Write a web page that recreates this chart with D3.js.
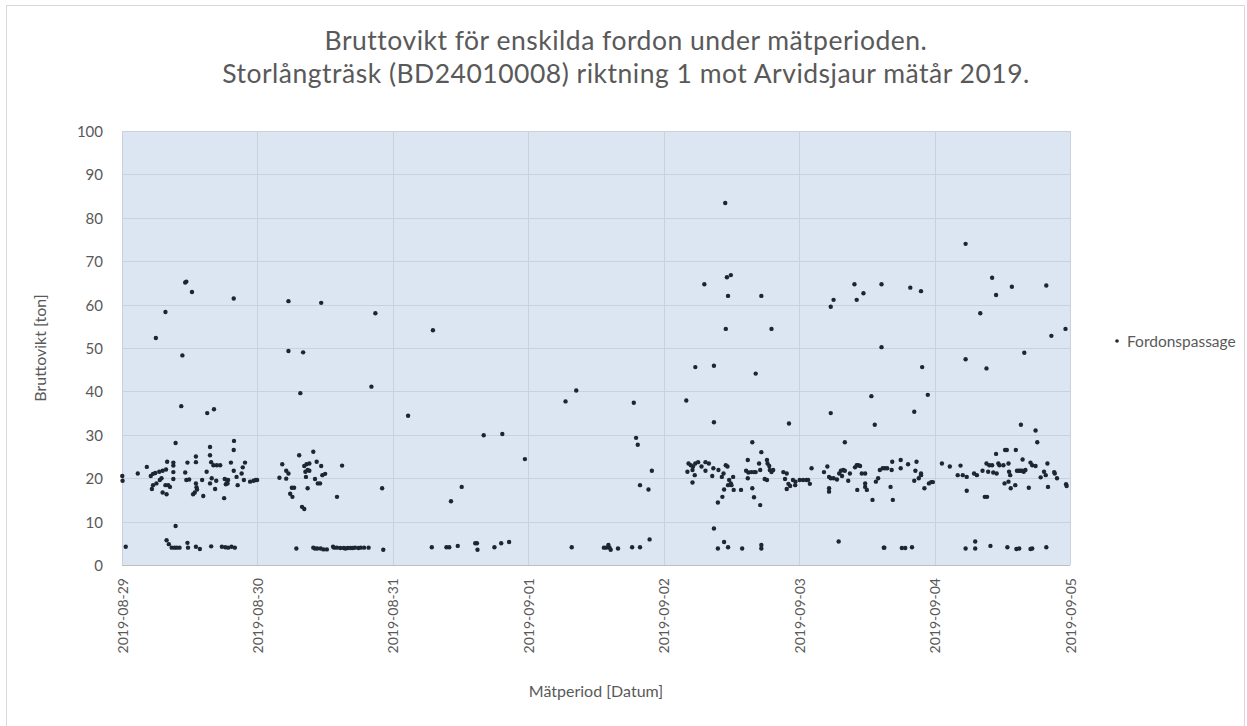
<!DOCTYPE html>
<html>
<head>
<meta charset="utf-8">
<script src="https://cdn.jsdelivr.net/npm/d3@7"></script>
<style>
  body { margin: 0; background: #fff; }
  svg { display: block; font-family: Lato, "Open Sans", sans-serif; }
</style>
</head>
<body>
<div id="chart"></div>
<script>
// ---- data: [hour of day, gross weight in ton] per measuring day ----
const day0829 = [
  [0.05, 20.5], [0.1, 19.4], [0.66, 4.2], [2.8, 21.1], [4.4, 22.6], [5.1, 20.5], [5.5, 21.0],
  [5.3, 17.5], [5.5, 18.4], [5.9, 21.2], [6.6, 21.5], [7.2, 21.7], [7.8, 22.0], [8.0, 23.8],
  [6.1, 18.8], [6.7, 19.6], [7.0, 20.0], [7.2, 16.7], [7.9, 16.3], [7.7, 18.4], [8.2, 18.4],
  [8.5, 18.0], [9.1, 23.6], [9.1, 22.9], [9.1, 21.4], [9.1, 19.8], [9.5, 28.1], [9.5, 9.0],
  [6.0, 52.3], [7.7, 58.3], [10.5, 36.6], [10.7, 48.3], [11.2, 65.1], [11.4, 65.3], [12.4, 62.9],
  [15.1, 35.0], [16.3, 35.9], [19.8, 61.4], [11.2, 21.3], [11.4, 19.6], [11.9, 19.7], [11.6, 23.6],
  [13.1, 25.0], [13.1, 23.7], [12.6, 16.3], [12.9, 16.7], [13.1, 18.8], [13.2, 17.9], [13.3, 17.4],
  [14.2, 19.6], [14.4, 15.9], [15.0, 21.5], [15.6, 25.3], [15.6, 27.2], [15.8, 23.7], [15.9, 20.0],
  [15.6, 18.8], [16.2, 23.0], [16.8, 23.0], [17.4, 23.0], [16.7, 19.4], [16.5, 17.5], [18.1, 15.4],
  [18.2, 19.8], [18.6, 19.6], [18.8, 19.6], [18.4, 18.6], [18.7, 18.8], [19.3, 23.6], [19.8, 21.7],
  [19.8, 26.5], [19.85, 28.6], [20.3, 20.3], [20.5, 18.4], [21.2, 21.1], [21.4, 22.5], [21.8, 23.6],
  [21.6, 19.6], [22.7, 19.2], [23.3, 19.4], [23.7, 19.6], [23.95, 19.6],
  [7.9, 5.7], [8.3, 4.8], [8.8, 4.0], [9.3, 4.0], [9.7, 4.0], [10.2, 4.0], [11.6, 5.1], [11.7, 4.0],
  [13.1, 4.2], [13.8, 3.7], [15.8, 4.3], [17.7, 4.2], [18.3, 4.1], [18.8, 4.0], [19.4, 4.2], [20.0, 4.0]
];
const day0830 = [
  [3.9, 20.1], [4.4, 23.2], [5.1, 21.7], [5.1, 19.9], [5.5, 21.1], [5.5, 60.8], [5.5, 49.3],
  [6.1, 17.8], [6.5, 17.8], [5.8, 16.4], [6.2, 15.7], [7.4, 25.3], [7.6, 39.6], [8.1, 49.0],
  [7.9, 13.4], [8.3, 12.9], [8.3, 22.8], [8.7, 23.2], [9.2, 23.4], [8.5, 21.5], [8.9, 21.9],
  [9.2, 21.7], [8.6, 20.3], [8.9, 17.7], [9.9, 26.1], [10.5, 23.8], [11.3, 22.8], [10.2, 19.8],
  [10.7, 18.8], [11.1, 18.8], [11.5, 20.7], [12.0, 21.0], [11.3, 60.4], [14.1, 15.7], [15.0, 22.9],
  [20.2, 41.1], [20.9, 58.0], [22.1, 17.7],
  [6.9, 3.8], [9.9, 4.0], [10.2, 3.8], [10.6, 3.8], [11.2, 3.8], [11.7, 3.6], [12.3, 3.6],
  [13.4, 4.2], [13.6, 4.0], [14.1, 4.0], [14.7, 3.9], [15.3, 3.9], [15.6, 3.8], [16.0, 3.9],
  [16.5, 3.9], [16.9, 3.9], [17.3, 4.0], [17.9, 3.9], [18.3, 4.0], [18.9, 4.0], [19.7, 4.0], [22.3, 3.5]
];
const day0831 = [
  [2.7, 34.4], [6.9, 4.1], [7.1, 54.1], [9.5, 4.1], [10.0, 4.1], [10.3, 14.7], [11.5, 4.4],
  [12.2, 18.0], [14.6, 5.0], [14.9, 5.0], [15.0, 3.5], [16.1, 29.9], [18.0, 4.1], [19.2, 5.0],
  [19.4, 30.2], [20.6, 5.3], [23.4, 24.4]
];
const day0901 = [
  [6.6, 37.7], [7.7, 4.1], [8.5, 40.2], [13.4, 4.0], [13.8, 4.0], [14.2, 4.6], [14.4, 4.0],
  [14.6, 3.5], [15.9, 3.8], [18.4, 4.1], [18.7, 37.4], [19.1, 29.3], [19.4, 27.7], [19.8, 4.1],
  [19.8, 18.4], [21.3, 17.4], [21.5, 5.9], [21.9, 21.7]
];
const day0902 = [
  [4.0, 37.9], [7.2, 64.7], [11.2, 66.3], [11.9, 66.8], [11.4, 62.0], [11.0, 54.4], [10.9, 83.4],
  [5.6, 45.6], [8.9, 45.9], [8.9, 32.9], [8.9, 8.4], [10.7, 5.3], [9.6, 3.8], [11.4, 4.1], [13.9, 3.8],
  [4.4, 23.4], [4.8, 23.0], [5.2, 22.7], [5.6, 23.4], [6.1, 23.7], [6.7, 22.7], [7.4, 23.7],
  [8.0, 23.4], [8.8, 22.3], [9.7, 21.9], [10.3, 20.3], [10.6, 21.1], [11.0, 23.0], [11.3, 22.7],
  [11.6, 19.6], [11.9, 18.8], [12.3, 20.3], [12.4, 17.3], [13.7, 17.3], [14.6, 21.7], [14.9, 24.2],
  [14.9, 20.0], [4.2, 21.5], [5.1, 21.9], [5.5, 20.7], [7.4, 21.7], [8.6, 20.5], [5.1, 19.0],
  [9.6, 14.4], [10.4, 15.7], [10.7, 17.4], [11.4, 18.4], [12.0, 18.4],
  [17.3, 62.0], [16.3, 44.1], [19.1, 54.4], [22.2, 32.6], [15.7, 28.3], [17.3, 26.0],
  [15.0, 21.3], [15.5, 21.4], [16.0, 21.4], [16.3, 21.4], [16.9, 23.4], [17.1, 21.9], [18.3, 24.2],
  [18.4, 23.4], [18.7, 22.8], [17.9, 19.8], [18.3, 19.6], [18.8, 21.9], [19.1, 21.4], [19.4, 21.9],
  [21.2, 21.4], [21.8, 21.1], [21.5, 19.8], [22.1, 18.7], [21.8, 17.5], [22.4, 18.2], [22.9, 19.6],
  [23.3, 18.4], [23.35, 19.2], [15.7, 17.7], [16.0, 15.6], [17.1, 13.8], [17.3, 4.6], [17.3, 3.8]
];
const day0903 = [
  [0.1, 19.6], [0.7, 19.6], [1.3, 19.6], [1.6, 19.6], [1.9, 18.7], [2.2, 22.3], [4.4, 21.4],
  [5.0, 22.7], [5.3, 20.3], [5.3, 17.7], [5.3, 16.9], [5.6, 35.0], [5.6, 59.5], [6.1, 61.1],
  [5.6, 20.0], [6.1, 20.0], [6.7, 19.7], [7.1, 21.1], [7.4, 21.7], [7.6, 20.5], [7.8, 21.9],
  [8.1, 21.7], [8.7, 19.4], [9.0, 21.1], [9.9, 22.5], [10.2, 23.0], [10.5, 23.0], [10.8, 22.8],
  [11.1, 21.1], [11.7, 21.1], [11.7, 18.0], [11.7, 18.8], [10.3, 17.3], [12.0, 17.3], [13.0, 15.0],
  [13.6, 19.2], [14.0, 20.0], [14.3, 21.9], [14.8, 22.3], [15.2, 22.3], [15.6, 22.3], [16.2, 18.0],
  [16.4, 21.9], [16.5, 23.8], [16.6, 15.0], [18.0, 24.2], [18.0, 22.3], [19.3, 23.2], [20.4, 19.4],
  [20.6, 21.7], [20.8, 23.8], [21.2, 20.0], [21.6, 21.1], [21.6, 20.7], [22.2, 17.7], [23.0, 18.8],
  [23.4, 19.1], [23.7, 19.1],
  [7.0, 5.4], [8.1, 28.3], [9.8, 64.7], [10.2, 61.1], [11.4, 62.6], [12.8, 38.9], [13.4, 32.3],
  [14.6, 64.7], [14.6, 50.2], [15.0, 4.0], [15.1, 4.0], [18.2, 3.9], [18.8, 3.9], [20.0, 4.1],
  [19.7, 63.9], [20.4, 35.3], [21.6, 63.1], [21.8, 45.6], [22.8, 39.2]
];
const day0904 = [
  [1.3, 23.4], [2.7, 22.7], [4.1, 20.7], [4.6, 22.9], [5.0, 20.7], [5.7, 20.3], [5.7, 17.1],
  [7.0, 21.1], [7.5, 20.7], [8.5, 21.7], [9.2, 23.4], [9.5, 21.5], [9.7, 23.0], [10.2, 23.0],
  [10.4, 21.3], [10.9, 25.6], [11.0, 21.1], [11.3, 23.4], [11.5, 23.0], [12.2, 23.0], [12.5, 26.5],
  [12.8, 26.5], [13.1, 23.4], [13.2, 21.5], [13.4, 20.7], [12.4, 18.8], [13.1, 19.2], [13.5, 17.7],
  [14.3, 18.4], [14.4, 26.5], [14.6, 21.7], [14.9, 21.7], [15.2, 21.7], [15.5, 21.7], [15.8, 21.5],
  [15.6, 24.3], [16.1, 21.9], [16.7, 17.8], [17.0, 23.6], [17.3, 23.0], [17.9, 22.8], [18.8, 20.2],
  [19.4, 21.5], [19.7, 20.7], [20.0, 23.4], [20.1, 18.0], [21.2, 21.4], [21.3, 21.1], [21.7, 20.0],
  [23.3, 18.6], [23.4, 18.2], [8.9, 15.7], [9.3, 15.7],
  [5.5, 74.0], [5.5, 47.4], [8.1, 58.0], [9.2, 45.3], [10.2, 66.2], [10.9, 62.2], [13.7, 64.1],
  [15.3, 32.3], [15.9, 48.9], [17.9, 31.0], [18.2, 28.3], [19.8, 64.4], [20.7, 52.8], [23.2, 54.4],
  [5.5, 3.8], [7.2, 5.4], [7.2, 3.8], [9.9, 4.4], [12.9, 4.1], [14.5, 3.7], [15.0, 3.8],
  [17.0, 3.7], [17.3, 3.8], [19.8, 4.1]
];

const measureDays = ["2019-08-29", "2019-08-30", "2019-08-31", "2019-09-01", "2019-09-02", "2019-09-03", "2019-09-04"];
const dayPassages = [day0829, day0830, day0831, day0901, day0902, day0903, day0904];
const yTicks = [0, 10, 20, 30, 40, 50, 60, 70, 80, 90, 100];
const seriesName = "Fordonspassage";

const titleLines = [
  "Bruttovikt för enskilda fordon under mätperioden.",
  "Storlångträsk (BD24010008) riktning 1 mot Arvidsjaur mätår 2019."
];
const yTitle = "Bruttovikt [ton]";
const xTitle = "Mätperiod [Datum]";

// ---- build points ----
const parseDay = d3.utcParse("%Y-%m-%d");
const points = [];
dayPassages.forEach((arr, i) => {
  const base = parseDay(measureDays[i]);
  arr.forEach(([h, t]) => points.push({ date: new Date(base.getTime() + h * 3600 * 1000), ton: t }));
});

const W = 1247, H = 726;
const plot = { left: 122, right: 1070, top: 131, bottom: 565 };
const textColor = "#595959";
const dotColor = "#1d2535";

const svg = d3.select("#chart").append("svg").attr("width", W).attr("height", H);

// chart area border
svg.append("rect")
  .attr("x", 6.5).attr("y", 5.5).attr("width", 1238).attr("height", 740)
  .attr("fill", "#fff").attr("stroke", "#d9d9d9");

const x = d3.scaleUtc()
  .domain([parseDay("2019-08-29"), parseDay("2019-09-05")])
  .range([plot.left, plot.right]);
const y = d3.scaleLinear().domain([0, 100]).range([plot.bottom, plot.top]);

// plot background
svg.append("rect")
  .attr("x", plot.left).attr("y", plot.top)
  .attr("width", plot.right - plot.left).attr("height", plot.bottom - plot.top)
  .attr("fill", "#dce6f2");

// gridlines
const xTickDates = d3.utcDay.range(parseDay("2019-08-29"), d3.utcDay.offset(parseDay("2019-09-05"), 1));
svg.append("g").selectAll("line").data(yTicks).join("line")
  .attr("x1", plot.left).attr("x2", plot.right)
  .attr("y1", d => Math.round(y(d)) + 0.5).attr("y2", d => Math.round(y(d)) + 0.5)
  .attr("stroke", d => d === 0 ? "#bfbfbf" : "#c9d2dc").attr("stroke-width", 1);
svg.append("g").selectAll("line").data(xTickDates).join("line")
  .attr("x1", d => Math.round(x(d)) + 0.5).attr("x2", d => Math.round(x(d)) + 0.5)
  .attr("y1", plot.top).attr("y2", plot.bottom)
  .attr("stroke", "#c9d2dc").attr("stroke-width", 1);

// y tick labels
svg.append("g").selectAll("text").data(yTicks).join("text")
  .attr("x", 103).attr("y", d => y(d))
  .attr("text-anchor", "end").attr("dominant-baseline", "central")
  .attr("fill", textColor).attr("font-size", "15px")
  .text(d => d);

// x tick labels (rotated)
const fmt = d3.utcFormat("%Y-%m-%d");
svg.append("g").selectAll("text").data(xTickDates).join("text")
  .attr("transform", d => `translate(${x(d)},578) rotate(-90)`)
  .attr("text-anchor", "end").attr("dominant-baseline", "central")
  .attr("fill", textColor).attr("font-size", "14px")
  .text(d => fmt(d));

// points
svg.append("g").selectAll("circle").data(points).join("circle")
  .attr("cx", d => x(d.date)).attr("cy", d => y(d.ton))
  .attr("r", 2.2)
  .attr("fill", dotColor);

// titles
svg.append("g").selectAll("text").data(titleLines).join("text")
  .attr("x", 626).attr("y", (d, i) => 50 + i * 33)
  .attr("text-anchor", "middle")
  .attr("fill", textColor).attr("font-size", "26.5px")
  .attr("letter-spacing", "0.5px")
  .text(d => d);

svg.append("text")
  .attr("transform", `translate(39,348) rotate(-90)`)
  .attr("text-anchor", "middle").attr("dominant-baseline", "central")
  .attr("fill", textColor).attr("font-size", "16px")
  .text(yTitle);

svg.append("text")
  .attr("x", (plot.left + plot.right) / 2).attr("y", 690)
  .attr("text-anchor", "middle").attr("dominant-baseline", "central")
  .attr("fill", textColor).attr("font-size", "16px")
  .text(xTitle);

// legend
const legend = svg.append("g").attr("transform", "translate(1117,341)");
legend.append("circle").attr("r", 1.8).attr("fill", dotColor);
legend.append("text")
  .attr("x", 10).attr("y", 0).attr("dominant-baseline", "central")
  .attr("fill", textColor).attr("font-size", "15.5px")
  .text(seriesName);
</script>
</body>
</html>
